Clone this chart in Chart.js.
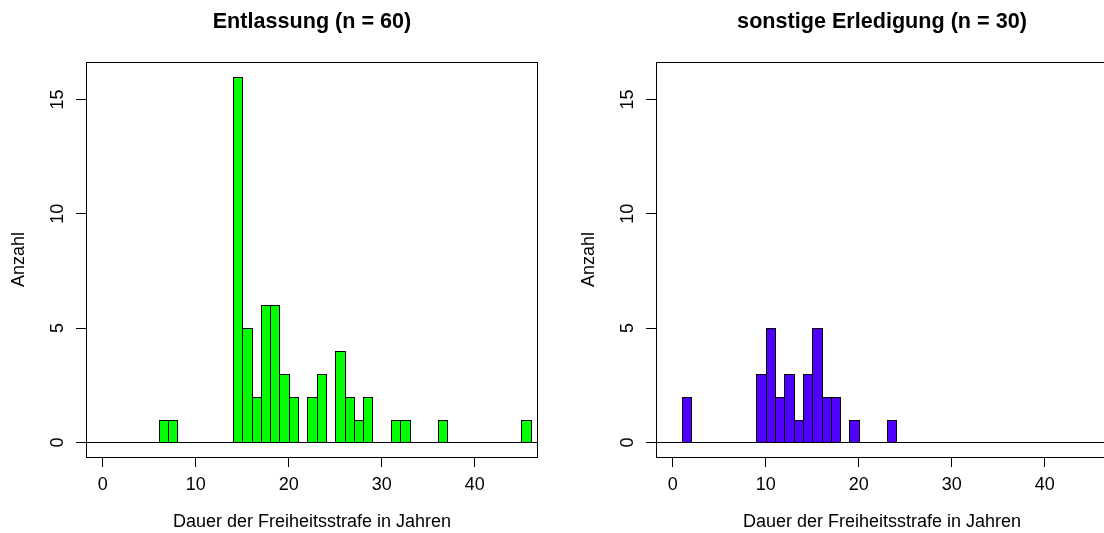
<!DOCTYPE html>
<html>
<head>
<meta charset="utf-8">
<script src="https://cdn.jsdelivr.net/npm/chart.js@4.4.1/dist/chart.umd.min.js"></script>
<style>
  html, body { margin: 0; padding: 0; background: #fff; overflow: hidden; }
  body { width: 1104px; height: 533px; position: relative; }
  .panel { position: absolute; top: 0; width: 552px; height: 533px; }
</style>
</head>
<body>
<div class="panel" style="left:0"><canvas id="leftChart" width="552" height="533"></canvas></div>
<div class="panel" style="left:570px"><canvas id="rightChart" width="552" height="533"></canvas></div>
<script>
// histogram bins (start of 1-year bin) and counts
const releaseBins = [6, 7, 14, 15, 16, 17, 18, 19, 20, 22, 23, 25, 26, 27, 28, 31, 32, 36, 45];
const releaseCounts = [1, 1, 16, 5, 2, 6, 6, 3, 2, 2, 3, 4, 2, 1, 2, 1, 1, 1, 1];
const otherBins = [1, 9, 10, 11, 12, 13, 14, 15, 16, 17, 19, 23];
const otherCounts = [2, 3, 5, 2, 3, 1, 3, 5, 2, 2, 1, 1];
const xTicks = [0, 10, 20, 30, 40];
const yTicks = [0, 5, 10, 15];
const xRange = [0, 45];
const yRange = [0, 16];

const fontFamily = "'Liberation Sans', Arial, Helvetica, sans-serif";

// snap bar edges to whole pixels so neighbouring borders share one crisp line
const snapPlugin = {
  id: "snap",
  beforeDatasetsDraw(chart) {
    const base = Math.round(chart.scales.y.getPixelForValue(0));
    chart.getDatasetMeta(0).data.forEach(el => {
      const l = Math.round(el.x - el.width / 2);
      const r = Math.round(el.x + el.width / 2) + 1;
      el.x = (l + r) / 2;
      el.width = r - l;
      el.y = Math.round(el.y);
      el.base = base;
    });
  }
};

// box round the plot plus the line at zero, like R's hist
const framePlugin = {
  id: "frame",
  afterDatasetsDraw(chart) {
    const ctx = chart.ctx;
    const a = chart.chartArea;
    const y0 = Math.round(chart.scales.y.getPixelForValue(0)) + 0.5;
    ctx.save();
    ctx.strokeStyle = "#000";
    ctx.lineWidth = 1;
    ctx.beginPath();
    ctx.moveTo(a.left, y0);
    ctx.lineTo(a.right, y0);
    ctx.stroke();
    ctx.strokeRect(Math.round(a.left) + 0.5, Math.round(a.top) + 0.5,
      Math.round(a.right - a.left) - 1, Math.round(a.bottom - a.top));
    ctx.restore();
  }
};

function ext(r) {
  const d = (r[1] - r[0]) * 0.04;
  return [r[0] - d, r[1] + d];
}

function makeConfig(title, bins, counts, color) {
  const xr = ext(xRange);
  const yr = ext(yRange);
  return {
    type: "bar",
    data: {
      datasets: [{
        data: bins.map((b, i) => ({ x: b + 0.5, y: counts[i] })),
        backgroundColor: color,
        borderColor: "#000",
        borderWidth: 1,
        borderSkipped: "start",
        inflateAmount: 0,
        categoryPercentage: 1,
        barPercentage: 1,
      }]
    },
    options: {
      responsive: false,
      animation: false,
      events: [],
      layout: { padding: { left: 0, right: 14, top: 0, bottom: 0 } },
      plugins: {
        legend: { display: false },
        tooltip: { enabled: false },
        title: {
          display: true,
          text: title,
          fullSize: false,
          color: "#000",
          font: { family: fontFamily, size: 21.6, weight: "bold" },
          padding: { top: 9.2, bottom: 26.9 },
        },
      },
      scales: {
        x: {
          type: "linear",
          offset: false,
          min: xr[0],
          max: xr[1],
          afterBuildTicks: s => { s.ticks = xTicks.map(v => ({ value: v })); },
          afterFit: s => { s.height = 76; },
          grid: { display: true, offset: false, drawOnChartArea: false, drawTicks: true, tickLength: 10, color: "#000" },
          border: { display: false },
          ticks: {
            color: "#000",
            padding: 7,
            maxRotation: 0,
            font: { family: fontFamily, size: 18 },
          },
          title: {
            display: true,
            text: "Dauer der Freiheitsstrafe in Jahren",
            color: "#000",
            font: { family: fontFamily, size: 18 },
            padding: { top: 0, bottom: 0.5 },
          },
        },
        y: {
          type: "linear",
          min: yr[0],
          max: yr[1],
          afterBuildTicks: s => { s.ticks = yTicks.map(v => ({ value: v })); },
          afterFit: s => { s.width = 86; },
          grid: { display: true, drawOnChartArea: false, drawTicks: true, tickLength: 10, color: "#000" },
          border: { display: false },
          ticks: {
            color: "#000",
            padding: 8,
            minRotation: 90,
            maxRotation: 90,
            crossAlign: "center",
            font: { family: fontFamily, size: 18 },
          },
          title: {
            display: true,
            text: "Anzahl",
            color: "#000",
            font: { family: fontFamily, size: 18 },
            padding: { top: 8.7, bottom: 0 },
          },
        },
      },
    },
    plugins: [snapPlugin, framePlugin],
  };
}

new Chart(document.getElementById("leftChart"),
  makeConfig("Entlassung (n = 60)", releaseBins, releaseCounts, "#00FF00"));
new Chart(document.getElementById("rightChart"),
  makeConfig("sonstige Erledigung (n = 30)", otherBins, otherCounts, "#5000FF"));
</script>
</body>
</html>
